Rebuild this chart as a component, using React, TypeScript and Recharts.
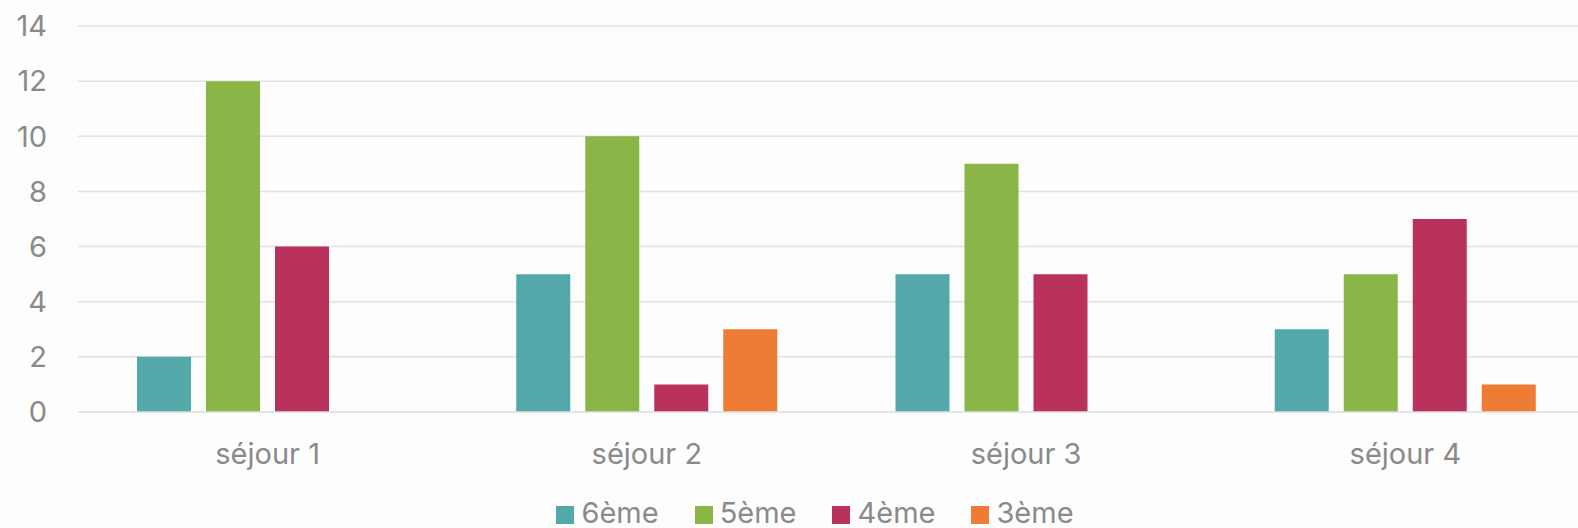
import { Bar, BarChart, CartesianGrid, Legend, XAxis, YAxis } from "recharts";

const CATEGORIES = ["séjour 1", "séjour 2", "séjour 3", "séjour 4"];
const SIXIEME = [2, 5, 5, 3];
const CINQUIEME = [12, 10, 9, 5];
const QUATRIEME = [6, 1, 5, 7];
const TROISIEME: (number | null)[] = [null, 3, null, 1];
const Y_TICKS = [0, 2, 4, 6, 8, 10, 12, 14];

const SERIES = [
  { key: "6ème", color: "#53a8a9" },
  { key: "5ème", color: "#8ab547" },
  { key: "4ème", color: "#b9325c" },
  { key: "3ème", color: "#ee7c35" }
];

const data = CATEGORIES.map((c, i) => ({
  name: c,
  "6ème": SIXIEME[i],
  "5ème": CINQUIEME[i],
  "4ème": QUATRIEME[i],
  "3ème": TROISIEME[i]
}));

const FONT = "Inter, 'Open Sans', sans-serif";
const TEXT = "#8a8a8a";
const GRID = "#e2e2e2";

function LegendBox() {
  return (
    <div
      style={{
        height: 54,
        paddingTop: 27,
        boxSizing: "border-box",
        display: "flex",
        justifyContent: "center",
        gap: 36,
        fontFamily: FONT,
        fontSize: 29,
        lineHeight: "30px",
        color: TEXT,
        paddingLeft: 35
      }}
    >
      {SERIES.map((s) => (
        <div key={s.key} style={{ display: "flex", alignItems: "center", gap: 7 }}>
          <span style={{ width: 18, height: 18, background: s.color, display: "inline-block", marginTop: 5 }} />
          <span>{s.key}</span>
        </div>
      ))}
    </div>
  );
}

export default function App() {
  // the original plot runs past the right edge of the picture, so it is clipped
  return (
    <div
      style={{
        position: "absolute",
        left: 0,
        top: 0,
        width: 1578,
        height: 528,
        overflow: "hidden",
        background: "#fdfdfd"
      }}
    >
      <BarChart
        width={1596}
        height={528}
        data={data}
        margin={{ top: 26, right: 1, bottom: 2, left: 0 }}
        barSize={54}
        barGap={15}
      >
        <CartesianGrid vertical={false} stroke={GRID} strokeWidth={1.5} />
        <XAxis
          dataKey="name"
          height={60}
          tickLine={false}
          axisLine={{ stroke: GRID, strokeWidth: 1.5 }}
          tickSize={0}
          tickMargin={31}
          tick={{ fill: TEXT, fontSize: 29, fontFamily: FONT }}
        />
        <YAxis
          width={78}
          domain={[0, 14]}
          ticks={Y_TICKS}
          axisLine={false}
          tickLine={false}
          tickSize={0}
          tickMargin={31}
          tick={{ fill: TEXT, fontSize: 29, fontFamily: FONT }}
        />
        <Legend verticalAlign="bottom" content={() => <LegendBox />} />
        {SERIES.map((s) => (
          <Bar key={s.key} dataKey={s.key} fill={s.color} isAnimationActive={false} />
        ))}
      </BarChart>
    </div>
  );
}
